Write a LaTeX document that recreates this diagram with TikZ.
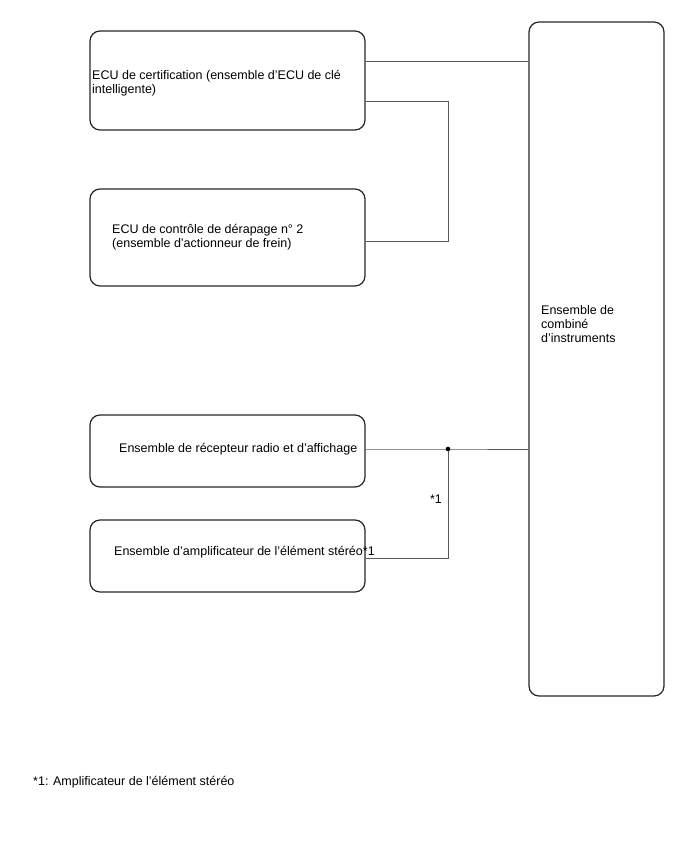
\documentclass[tikz,border=0pt]{standalone}
\usepackage{fontspec}
\setmainfont{Liberation Sans}
\usetikzlibrary{positioning}

\begin{document}
\begin{tikzpicture}[
    x=1pt, y=-1pt,
    unit/.style  = {draw=black!85, line width=1.2pt, rounded corners=10pt},
    label/.style = {font=\fontsize{12.5}{14}\selectfont, inner sep=0pt, align=left},
    wire/.style  = {draw=black!65, line width=1pt}
  ]
  \useasboundingbox (0,0) rectangle (688,852);

  % boxes (not to scale: sizes taken from the sheet)
  \node[unit, minimum width=275pt, minimum height=99pt] (certif)   at (227.5,80.5) {};
  \node[unit, minimum width=275pt, minimum height=97pt] (derapage) at (227.5,237.5) {};
  \node[unit, minimum width=275pt, minimum height=72pt] (radio)    at (227.5,451) {};
  \node[unit, minimum width=275pt, minimum height=72pt] (ampli)    at (227.5,556) {};
  \node[unit, minimum width=135pt, minimum height=674pt] (combi)   at (596.5,359) {};

  % texts
  \node[label, anchor=west] (certiftxt) at (92,83)
    {ECU de certification (ensemble d'ECU de clé\\intelligente)};
  \node[label, anchor=west] (derapagetxt) at (112,237)
    {ECU de contrôle de dérapage n° 2\\(ensemble d'actionneur de frein)};
  \node[label, anchor=west] (radiotxt) at (119,449) {Ensemble de récepteur radio et d'affichage};
  \node[label, anchor=west] (amplitxt) at (114,552) {Ensemble d'amplificateur de l'élément stéréo*1};
  \node[label, anchor=west] (combitxt) at (541,324) {Ensemble de\\combiné\\d'instruments};

  % wiring
  \coordinate (jct) at (448,449);
  \coordinate (derapin) at ([yshift=-3.5pt]derapage.east);
  \draw[wire] ([yshift=19.5pt]certif.east) -- ([yshift=19.5pt]certif.east -| combi.west);
  \draw[wire] ([yshift=-20.5pt]certif.east) -| (jct |- derapin) -- (derapin);
  \draw[wire] ([yshift=2pt]radio.east) -- (jct) -- (jct -| combi.west);
  \draw[wire] ([yshift=-2pt]ampli.east) -| (jct);
  \fill (jct) circle (2.3pt);
  \node[label] (star) at (436,499) {*1};

  % footnote
  \node[label, anchor=west] (note) at (33,782) {*1: Amplificateur de l'élément stéréo};
\end{tikzpicture}
\end{document}
